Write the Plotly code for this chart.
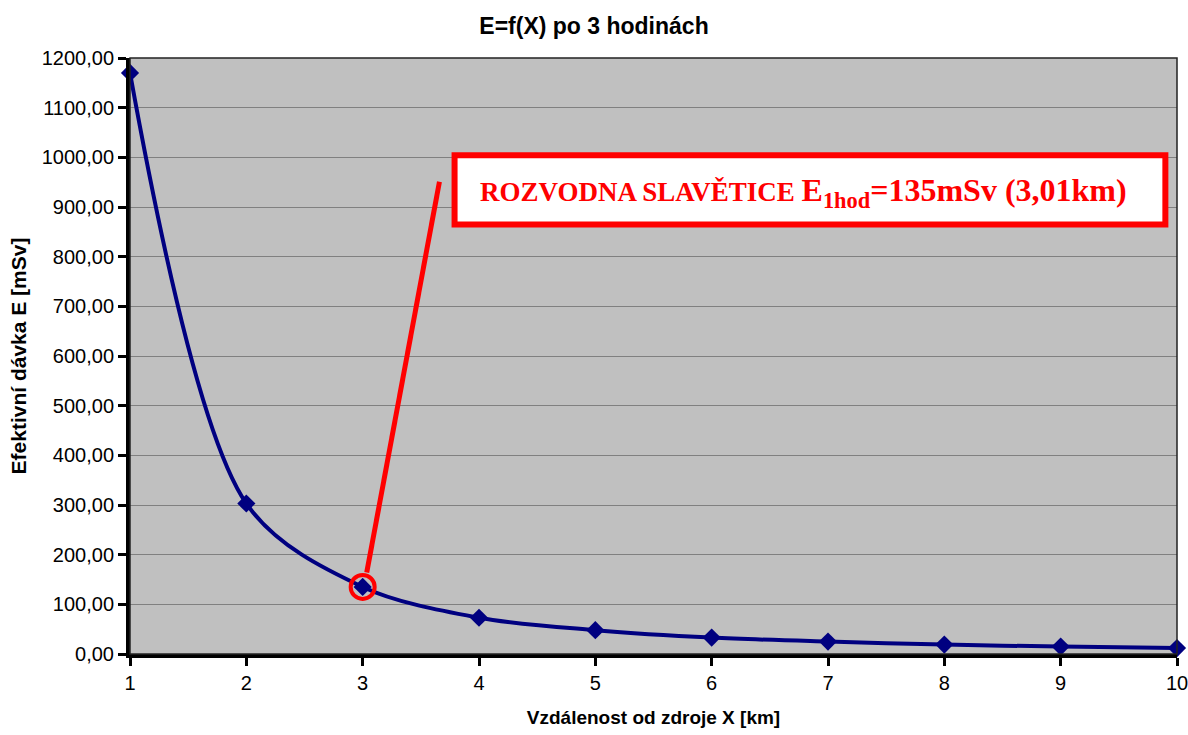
import plotly.graph_objects as go

# Effective dose vs. distance from the source after 3 hours
distance_km = [1, 2, 3, 4, 5, 6, 7, 8, 9, 10]
dose_msv = [1170, 303, 135, 73, 48, 33, 25, 19, 15, 12]

y_ticks = [0, 100, 200, 300, 400, 500, 600, 700, 800, 900, 1000, 1100, 1200]
y_tick_text = [f"{v},00" for v in y_ticks]

# highlighted location
site_x = 3
site_y = 135
site_label = ("<span style='font-size:27px'>ROZVODNA SLAVĚTICE </span>"
              "E<sub>1hod</sub>=135mSv (3,01km)")

sans = "Liberation Sans, Arial, sans-serif"
serif = "Liberation Serif, Times New Roman, serif"

fig = go.Figure()
fig.add_trace(go.Scatter(
    x=distance_km, y=dose_msv,
    mode="lines+markers",
    line=dict(color="#000080", width=4, shape="spline", smoothing=0.9),
    marker=dict(symbol="diamond", size=14, color="#000080"),
    cliponaxis=False,
    hoverinfo="x+y",
))

shapes = [
    # thin frame around the plot area
    dict(type="rect", xref="paper", yref="paper", x0=0, x1=1, y0=0, y1=1,
         line=dict(color="#222222", width=1.5), layer="above"),
    # pointer line from the marked point to the label box
    dict(type="line", xref="x", yref="y", x0=3.035, y0=164, x1=3.66, y1=951,
         line=dict(color="#FF0000", width=5)),
    # ring around the marked point
    dict(type="circle", xref="x", yref="y", xsizemode="pixel", ysizemode="pixel",
         xanchor=site_x, yanchor=site_y, x0=-12, x1=12, y0=-12, y1=12,
         line=dict(color="#FF0000", width=4)),
    # label box
    dict(type="rect", xref="x", yref="y", x0=3.79, x1=9.9, y0=865, y1=1004,
         fillcolor="white", line=dict(color="#FF0000", width=6)),
]

fig.update_layout(
    width=1188, height=735,
    margin=dict(l=130, r=11, t=58, b=81, autoexpand=False),
    paper_bgcolor="white",
    plot_bgcolor="#C0C0C0",
    showlegend=False,
    title=dict(text="<b>E=f(X) po 3 hodinách</b>", x=0.5, xanchor="center",
               y=1 - 26 / 735, yanchor="middle",
               font=dict(family=sans, size=23, color="black")),
    shapes=shapes,
    annotations=[dict(
        xref="x", yref="y", x=3.99, y=930, xanchor="left", yanchor="middle",
        text=f"<b>{site_label}</b>", showarrow=False,
        font=dict(family=serif, size=32, color="#FF0000"),
    )],
)

fig.update_xaxes(
    range=[1, 10], tickmode="array", tickvals=distance_km,
    showgrid=False, zeroline=False, automargin=False,
    ticklabeloverflow="allow",
    showline=True, linecolor="black", linewidth=4,
    ticks="outside", ticklen=8, tickwidth=3, tickcolor="black",
    tickfont=dict(family=sans, size=20, color="black"),
    title=dict(text="<b>Vzdálenost od zdroje X [km]</b>", standoff=19,
               font=dict(family=sans, size=19, color="black")),
)
fig.update_yaxes(
    range=[0, 1200], tickmode="array", tickvals=y_ticks, ticktext=y_tick_text,
    showgrid=True, gridcolor="#808080", gridwidth=1, zeroline=False,
    automargin=False, ticklabeloverflow="allow",
    showline=True, linecolor="black", linewidth=4,
    ticks="outside", ticklen=8, tickwidth=3, tickcolor="black",
    tickfont=dict(family=sans, size=20, color="black"),
    title=dict(text="<b>Efektivní dávka E [mSv]</b>", standoff=10,
               font=dict(family=sans, size=21, color="black")),
)

fig.write_html("out.html")
